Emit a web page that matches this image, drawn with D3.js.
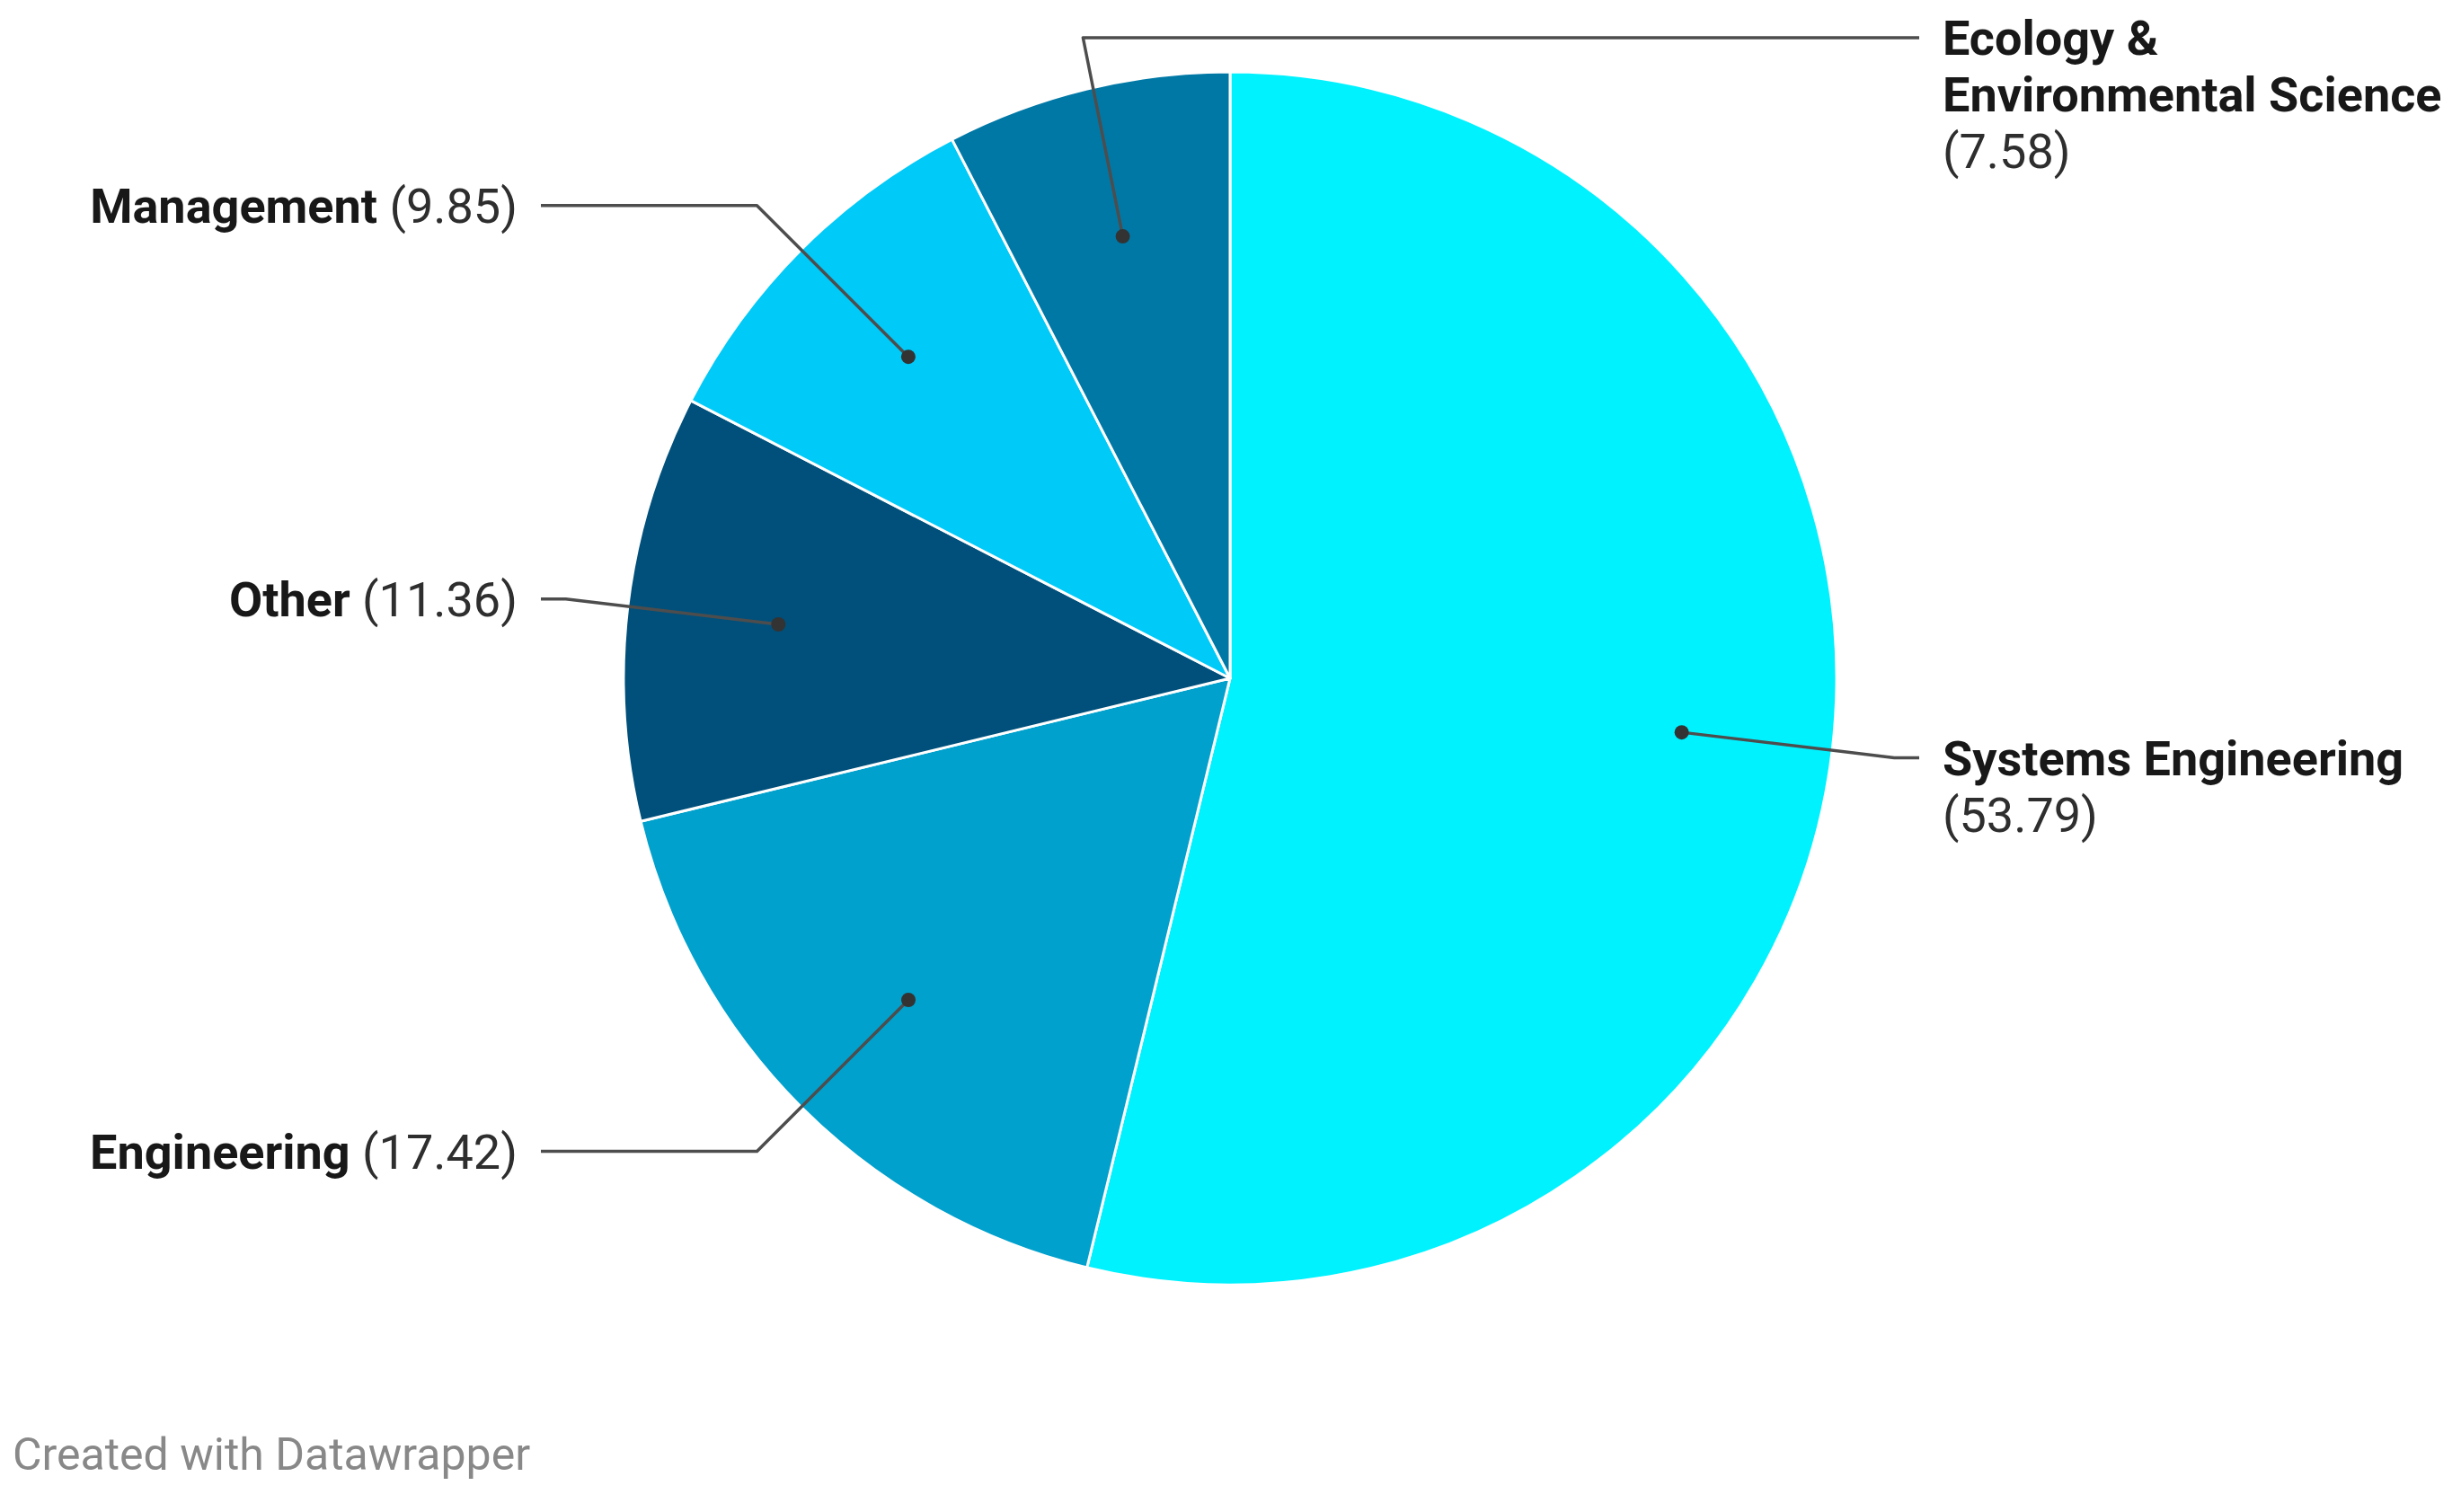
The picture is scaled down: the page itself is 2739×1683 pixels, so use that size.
<!DOCTYPE html>
<html>
<head>
<meta charset="utf-8">
<script src="https://cdn.jsdelivr.net/npm/d3@7"></script>
<style>
  body { margin: 0; background: #fff; }
  svg { display: block; font-family: Roboto, "Noto Sans", sans-serif; }
</style>
</head>
<body>
<svg class="chart"></svg>
<script>
// data
var categories = ["Systems Engineering", "Engineering", "Other", "Management", "Ecology & Environmental Science"];
var values = [53.79, 17.42, 11.36, 9.85, 7.58];
var colors = ["#00f2ff", "#00a1cd", "#00507b", "#00caf8", "#0078a6"];

var W = 2739, H = 1683;
var cx = 1369, cy = 755, R = 675;
var fontSize = 54, lineH = 63;

var svg = d3.select(".chart")
	.attr("width", W)
	.attr("height", H);

var g = svg.append("g")
	.attr("transform", "translate(" + cx + "," + cy + ")");

var pie = d3.pie().sort(null).value(function(d) { return d; });
var arcs = pie(values);
var arc = d3.arc().innerRadius(0).outerRadius(R);

g.selectAll("path.slice")
	.data(arcs)
	.enter().append("path")
	.attr("class", "slice")
	.attr("d", arc)
	.attr("fill", function(d, i) { return colors[i]; })
	.attr("stroke", "#fff")
	.attr("stroke-width", 3)
	.attr("stroke-linejoin", "round");

// label geometry
function mid(d) { return (d.startAngle + d.endAngle) / 2; }

var topY = 42 - cy;
var labelData = arcs.map(function(d, i) {
	var a = mid(d);
	var s = Math.sin(a), c = -Math.cos(a);
	var ex = R * 1.103 * s, ey = R * 1.103 * c;
	var clamped = ey < topY;
	if (clamped) { ey = topY; ex += 12; }
	// labels pushed to the top edge go to the free right side
	var left = s < 0 && !clamped;
	return {
		i: i,
		left: left,
		dot: [R * 0.75 * s, R * 0.75 * c],
		elbow: [ex, ey],
		end: [left ? -767 : 767, ey],
		lx: left ? -793 : 793
	};
});

g.selectAll("path.leader")
	.data(labelData)
	.enter().append("path")
	.attr("class", "leader")
	.attr("d", function(d) { return d3.line()([d.dot, d.elbow, d.end]); })
	.attr("fill", "none")
	.attr("stroke", "#4d4d4d")
	.attr("stroke-width", 3.5)
	.attr("stroke-linejoin", "round");

g.selectAll("circle.dot")
	.data(labelData)
	.enter().append("circle")
	.attr("class", "dot")
	.attr("cx", function(d) { return d.dot[0]; })
	.attr("cy", function(d) { return d.dot[1]; })
	.attr("r", 8)
	.attr("fill", "#333");

// word wrap with measuring
var measure = svg.append("text").attr("font-size", fontSize).attr("visibility", "hidden");
function width(str, bold) {
	measure.attr("font-weight", bold ? 700 : 400).text(str);
	return measure.node().getComputedTextLength();
}

function wrap(name, value, maxW) {
	var tokens = name.split(" ").map(function(w) { return { t: w, b: true }; });
	tokens.push({ t: "(" + value.toFixed(2) + ")", b: false });
	var lines = [[]], cur = 0;
	var space = width(" ", false);
	tokens.forEach(function(tk) {
		var w = width(tk.t, tk.b);
		var line = lines[lines.length - 1];
		if (line.length && cur + space + w > maxW) {
			lines.push([tk]);
			cur = w;
		} else {
			cur += (line.length ? space : 0) + w;
			line.push(tk);
		}
	});
	return lines;
}

labelData.forEach(function(d) {
	var maxW = d.left ? cx - 793 - 10 : W - (cx + 793) - 10;
	var lines = wrap(categories[d.i], values[d.i], maxW);
	var txt = g.append("text")
		.attr("font-size", fontSize)
		.attr("text-anchor", d.left ? "end" : "start")
		.attr("fill", "#333");
	lines.forEach(function(line, li) {
		line.forEach(function(tk, ti) {
			var ts = txt.append("tspan")
				.attr("font-weight", tk.b ? 700 : 400)
				.attr("fill", tk.b ? "#181818" : "#2e2e2e")
				.text((ti > 0 ? " " : "") + tk.t);
			if (ti === 0) {
				ts.attr("x", d.lx).attr("y", d.end[1] + 0.36 * fontSize + li * lineH);
			}
		});
	});
});
measure.remove();

svg.append("text")
	.attr("x", 14)
	.attr("y", 1636)
	.attr("font-size", 50)
	.attr("fill", "#888")
	.text("Created with Datawrapper");
</script>
</body>
</html>
